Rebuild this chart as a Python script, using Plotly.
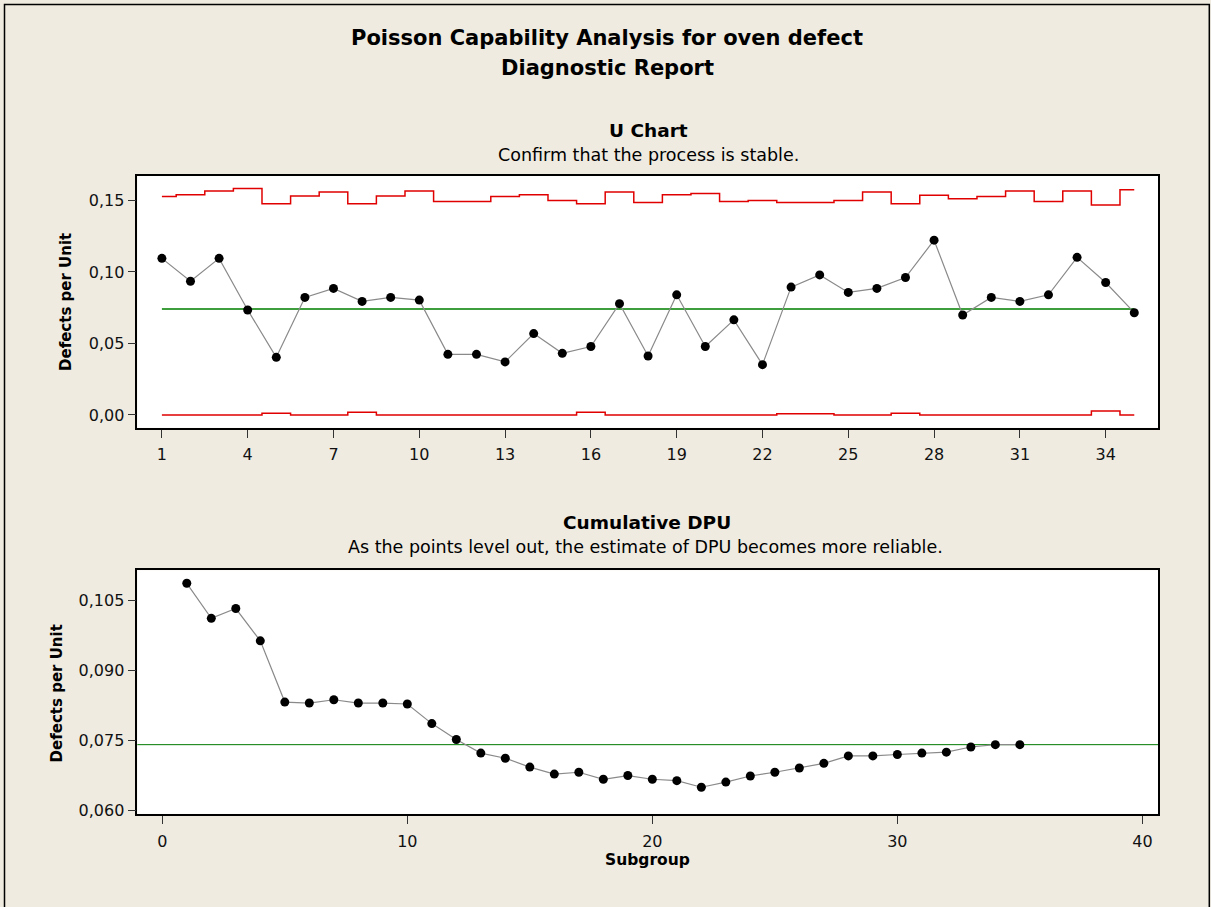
import plotly.graph_objects as go

W, H = 1211, 907

subgroups = list(range(1, 36))

u_values = [0.1095, 0.0935, 0.1095, 0.0734, 0.0403, 0.0822, 0.0885, 0.0794, 0.0822, 0.0803,
            0.0424, 0.0424, 0.0371, 0.0569, 0.0431, 0.0479, 0.0778, 0.0412, 0.0840, 0.0479,
            0.0665, 0.0352, 0.0894, 0.0979, 0.0857, 0.0885, 0.0961, 0.1222, 0.0699, 0.0822,
            0.0794, 0.0840, 0.1102, 0.0926, 0.0715]

ucl_values = [0.1528, 0.1540, 0.1565, 0.1583, 0.1477, 0.1531, 0.1558, 0.1477, 0.1531, 0.1565,
              0.1493, 0.1493, 0.1528, 0.1540, 0.1500, 0.1477, 0.1558, 0.1486, 0.1540, 0.1549,
              0.1493, 0.1500, 0.1486, 0.1486, 0.1500, 0.1558, 0.1477, 0.1537, 0.1512, 0.1528,
              0.1565, 0.1493, 0.1565, 0.1468, 0.1574]

lcl_values = [0, 0, 0, 0, 0.0012, 0, 0, 0.0019, 0, 0,
              0, 0, 0, 0, 0, 0.0019, 0, 0, 0, 0,
              0, 0, 0.0008, 0.0008, 0, 0, 0.0012, 0, 0, 0,
              0, 0, 0, 0.0028, 0]

center_line = 0.0741

cum_dpu = [0.1086, 0.1011, 0.1032, 0.0963, 0.0832, 0.0830, 0.0837, 0.0830, 0.0830, 0.0828,
           0.0786, 0.0752, 0.0723, 0.0712, 0.0693, 0.0678, 0.0682, 0.0667, 0.0675, 0.0667,
           0.0664, 0.0650, 0.0661, 0.0674, 0.0682, 0.0691, 0.0701, 0.0717, 0.0717, 0.0720,
           0.0723, 0.0725, 0.0736, 0.0741, 0.0741]

FONT = "DejaVu Sans"
BG = "#EFEBE1"
RED = "#E00000"

fig = go.Figure()

# --- U chart ---
fig.add_trace(go.Scatter(x=subgroups, y=ucl_values, mode="lines", line=dict(color=RED, width=1.5, shape="hvh"),
                         xaxis="x", yaxis="y", hoverinfo="skip"))
fig.add_trace(go.Scatter(x=subgroups, y=lcl_values, mode="lines", line=dict(color=RED, width=1.5, shape="hvh"),
                         xaxis="x", yaxis="y", hoverinfo="skip"))
fig.add_trace(go.Scatter(x=[subgroups[0], subgroups[-1]], y=[center_line, center_line], mode="lines",
                         line=dict(color="#3E9E3E", width=2), xaxis="x", yaxis="y"))
fig.add_trace(go.Scatter(x=subgroups, y=u_values, mode="lines+markers",
                         line=dict(color="#8A8A8A", width=1.2),
                         marker=dict(color="black", size=9), xaxis="x", yaxis="y"))

# --- Cumulative DPU ---
fig.add_trace(go.Scatter(x=[-5, 50], y=[center_line, center_line], mode="lines",
                         line=dict(color="#007A00", width=1), xaxis="x2", yaxis="y2"))
fig.add_trace(go.Scatter(x=subgroups, y=cum_dpu, mode="lines+markers",
                         line=dict(color="#8A8A8A", width=1.2),
                         marker=dict(color="black", size=9), xaxis="x2", yaxis="y2"))


def px_x(p):
    return p / W


def px_y(p):
    return 1 - p / H


axis_common = dict(showline=True, mirror=True, linecolor="black", linewidth=1.5,
                   ticks="outside", ticklen=8, tickcolor="#333333", tickwidth=1,
                   showgrid=False, zeroline=False,
                   tickfont=dict(family=FONT, size=16, color="#111111"))

fig.update_layout(
    width=W, height=H,
    margin=dict(l=0, r=0, t=0, b=0),
    paper_bgcolor=BG, plot_bgcolor="white",
    showlegend=False,
    separators=",.",
    font=dict(family=FONT, color="black"),
    xaxis=dict(domain=[px_x(137.3), px_x(1158.3)], range=[0.14, 35.84], tick0=1, dtick=3,
               anchor="y", ticklabelstandoff=3, **axis_common),
    yaxis=dict(domain=[px_y(430.7), px_y(176.7)], range=[-0.009, 0.1674], tick0=0, dtick=0.05,
               tickformat=".2f", anchor="x", **axis_common),
    xaxis2=dict(domain=[px_x(137.3), px_x(1158.3)], range=[-1.02, 40.65], tick0=0, dtick=10,
                anchor="y2", ticklabelstandoff=4, **axis_common),
    yaxis2=dict(domain=[px_y(819.3), px_y(574)], range=[0.0593, 0.1114], tick0=0.06, dtick=0.015,
                tickformat=".3f", anchor="x2", **axis_common),
)

annots = [
    ("<b>Poisson Capability Analysis for oven defect</b>", 607, 38, 21, 0),
    ("<b>Diagnostic Report</b>", 607, 68, 21, 0),
    ("<b>U Chart</b>", 648, 131, 18.5, 0),
    ("Confirm that the process is stable.", 648, 156, 17.5, 0),
    ("<b>Cumulative DPU</b>", 647, 526, 18.5, 0),
    ("As the points level out, the estimate of DPU becomes more reliable.", 645, 551, 17.5, 0),
    ("<b>Defects per Unit</b>", 66, 304, 15, -90),
    ("<b>Defects per Unit</b>", 57, 698, 15, -90),
    ("<b>Subgroup</b>", 647, 866, 15.5, 0),
]
for text, x, y, size, angle in annots:
    fig.add_annotation(text=text, x=px_x(x), y=px_y(y), xref="paper", yref="paper",
                       xanchor="center", yanchor="middle", showarrow=False, textangle=angle,
                       font=dict(family=FONT, size=size, color="black"))

# outer frame
fig.add_shape(type="rect", xref="paper", yref="paper",
              x0=px_x(4.5), x1=px_x(1209.3), y0=px_y(915), y1=px_y(4.5),
              line=dict(color="black", width=1.5), fillcolor="rgba(0,0,0,0)", layer="above")

fig.write_html("out.html")
